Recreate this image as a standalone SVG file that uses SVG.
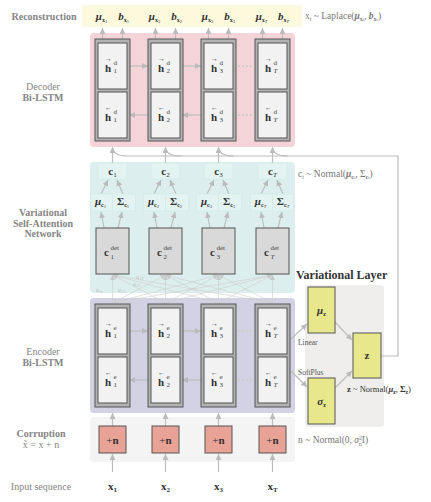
<svg xmlns="http://www.w3.org/2000/svg" width="431" height="502" viewBox="0 0 431 502">
<defs>
<style>
text{font-family:"Liberation Serif","DejaVu Serif",serif}
.lbl{fill:#858585;font-size:10px;text-anchor:middle}
.lb{font-weight:bold}
.m{fill:#333;font-size:11px}
.mb{font-weight:bold}
.s7{font-size:7px;fill:#444}
.ar{font-size:7px}
.note{fill:#777;font-size:9.5px}
.ln{stroke:#bdbdbd;stroke-width:1.2;fill:none}
.att{stroke:#cdcdcd;stroke-width:0.6;fill:none}
.outer{fill:#b3b3b3;stroke:#555;stroke-width:1}
.inner{fill:#f2f2f2;stroke:#555;stroke-width:1}
.dots{stroke:#cfcfcf;stroke-width:2;stroke-dasharray:2,2;fill:none}
.cell{fill:#e3f3f2;stroke:#d2ebe9;stroke-width:0.8}
.det{fill:#d9d9d9;stroke:#555;stroke-width:1}
.yel{fill:#e9e78b;stroke:#555;stroke-width:1}
.red{fill:#e9a296;stroke:#555;stroke-width:1}
</style>
<marker id="ah" markerUnits="userSpaceOnUse" markerWidth="6" markerHeight="6" refX="6" refY="3" orient="auto"><path d="M0,0 L6,3 L0,6 z" fill="#bbb"/></marker>
<marker id="as" markerUnits="userSpaceOnUse" markerWidth="5" markerHeight="5" refX="5" refY="2.5" orient="auto"><path d="M0,0 L5,2.5 L0,5 z" fill="#c8c8c8"/></marker>
</defs>
<rect width="431" height="502" fill="#fff"/>

<g id="bands">
<rect x="82" y="5" width="220" height="22" rx="3" fill="#fdf9dc"/>
<rect x="90" y="33" width="205" height="114" rx="4" fill="#f4d4d8"/>
<rect x="90" y="162" width="205" height="131" rx="4" fill="#dcefee"/>
<rect x="90" y="298" width="205" height="115" rx="4" fill="#d3d2e4"/>
<rect x="90" y="417" width="205" height="45" rx="3" fill="#f4f4f4"/>
<rect x="305" y="285" width="79" height="142" rx="3" fill="#efeeed"/>
</g>

<g id="left-labels">
<text class="lbl lb" x="44" y="20">Reconstruction</text>
<text class="lbl" x="43" y="90">Decoder</text>
<text class="lbl lb" x="43" y="100.5">Bi-LSTM</text>
<text class="lbl lb" x="43" y="216">Variational</text>
<text class="lbl lb" x="43" y="226.5">Self-Attention</text>
<text class="lbl lb" x="43" y="237">Network</text>
<text class="lbl" x="43" y="355">Encoder</text>
<text class="lbl lb" x="43" y="365.5">Bi-LSTM</text>
<text class="lbl lb" x="41" y="437">Corruption</text>
<text class="lbl" x="41" y="448">x̃ = x + n</text>
<text class="lbl" x="41" y="490">Input sequence</text>
</g>

<g id="connectors">
<line class="ln" x1="102.5" y1="39" x2="102.5" y2="28" marker-end="url(#ah)"/>
<line class="ln" x1="122.5" y1="39" x2="122.5" y2="28" marker-end="url(#ah)"/>
<line class="ln" x1="155.5" y1="39" x2="155.5" y2="28" marker-end="url(#ah)"/>
<line class="ln" x1="175.5" y1="39" x2="175.5" y2="28" marker-end="url(#ah)"/>
<line class="ln" x1="208.5" y1="39" x2="208.5" y2="28" marker-end="url(#ah)"/>
<line class="ln" x1="228.5" y1="39" x2="228.5" y2="28" marker-end="url(#ah)"/>
<line class="ln" x1="262.5" y1="39" x2="262.5" y2="28" marker-end="url(#ah)"/>
<line class="ln" x1="282.5" y1="39" x2="282.5" y2="28" marker-end="url(#ah)"/>
<line class="ln" x1="129" y1="66" x2="148" y2="66" marker-end="url(#ah)"/>
<line class="ln" x1="182" y1="66" x2="201" y2="66" marker-end="url(#ah)"/>
<line class="ln" x1="148" y1="115" x2="129" y2="115" marker-end="url(#ah)"/>
<line class="ln" x1="201" y1="115" x2="182" y2="115" marker-end="url(#ah)"/>
<line class="dots" x1="238" y1="66" x2="254" y2="66"/>
<line class="dots" x1="238" y1="115" x2="254" y2="115"/>
<line class="ln" x1="129" y1="331" x2="148" y2="331" marker-end="url(#ah)"/>
<line class="ln" x1="182" y1="331" x2="201" y2="331" marker-end="url(#ah)"/>
<line class="ln" x1="148" y1="380" x2="129" y2="380" marker-end="url(#ah)"/>
<line class="ln" x1="201" y1="380" x2="182" y2="380" marker-end="url(#ah)"/>
<line class="dots" x1="238" y1="331" x2="254" y2="331"/>
<line class="dots" x1="238" y1="380" x2="254" y2="380"/>
<line class="ln" x1="112.5" y1="163" x2="112.5" y2="147" marker-end="url(#ah)"/>
<line class="ln" x1="165.5" y1="163" x2="165.5" y2="147" marker-end="url(#ah)"/>
<line class="ln" x1="218.5" y1="163" x2="218.5" y2="147" marker-end="url(#ah)"/>
<line class="ln" x1="272.5" y1="163" x2="272.5" y2="147" marker-end="url(#ah)"/>
<path class="ln" d="M381,356H398V156H128Q113.5,156 112.5,148"/>
<path class="ln" d="M181,156Q166.5,156 165.5,148"/>
<path class="ln" d="M234,156Q219.5,156 218.5,148"/>
<path class="ln" d="M288,156Q273.5,156 272.5,148"/>
<line class="ln" x1="101" y1="194" x2="108" y2="180" marker-end="url(#ah)"/>
<line class="ln" x1="123" y1="194" x2="117" y2="180" marker-end="url(#ah)"/>
<line class="ln" x1="154" y1="194" x2="161" y2="180" marker-end="url(#ah)"/>
<line class="ln" x1="176" y1="194" x2="170" y2="180" marker-end="url(#ah)"/>
<line class="ln" x1="207" y1="194" x2="214" y2="180" marker-end="url(#ah)"/>
<line class="ln" x1="229" y1="194" x2="223" y2="180" marker-end="url(#ah)"/>
<line class="ln" x1="261" y1="194" x2="268" y2="180" marker-end="url(#ah)"/>
<line class="ln" x1="283" y1="194" x2="277" y2="180" marker-end="url(#ah)"/>
<line class="ln" x1="104" y1="228" x2="101" y2="212" marker-end="url(#ah)"/>
<line class="ln" x1="118" y1="228" x2="122" y2="212" marker-end="url(#ah)"/>
<line class="ln" x1="157" y1="228" x2="154" y2="212" marker-end="url(#ah)"/>
<line class="ln" x1="171" y1="228" x2="175" y2="212" marker-end="url(#ah)"/>
<line class="ln" x1="210" y1="228" x2="207" y2="212" marker-end="url(#ah)"/>
<line class="ln" x1="224" y1="228" x2="228" y2="212" marker-end="url(#ah)"/>
<line class="ln" x1="264" y1="228" x2="261" y2="212" marker-end="url(#ah)"/>
<line class="ln" x1="278" y1="228" x2="282" y2="212" marker-end="url(#ah)"/>
<g class="att" marker-end="url(#as)">
<line x1="112.5" y1="303" x2="112.5" y2="275"/><line x1="165.5" y1="303" x2="112.5" y2="275"/><line x1="218.5" y1="303" x2="112.5" y2="275"/><line x1="272.5" y1="303" x2="112.5" y2="275"/>
<line x1="112.5" y1="303" x2="165.5" y2="275"/><line x1="165.5" y1="303" x2="165.5" y2="275"/><line x1="218.5" y1="303" x2="165.5" y2="275"/><line x1="272.5" y1="303" x2="165.5" y2="275"/>
<line x1="112.5" y1="303" x2="218.5" y2="275"/><line x1="165.5" y1="303" x2="218.5" y2="275"/><line x1="218.5" y1="303" x2="218.5" y2="275"/><line x1="272.5" y1="303" x2="218.5" y2="275"/>
<line x1="112.5" y1="303" x2="272.5" y2="275"/><line x1="165.5" y1="303" x2="272.5" y2="275"/><line x1="218.5" y1="303" x2="272.5" y2="275"/><line x1="272.5" y1="303" x2="272.5" y2="275"/>
</g>
<line class="ln" x1="291" y1="339" x2="307" y2="324" marker-end="url(#ah)"/>
<line class="ln" x1="291" y1="371" x2="307" y2="387" marker-end="url(#ah)"/>
<line class="ln" x1="335" y1="322" x2="352" y2="340" marker-end="url(#ah)"/>
<line class="ln" x1="335" y1="388" x2="352" y2="371" marker-end="url(#ah)"/>
<line class="ln" x1="112.5" y1="472" x2="112.5" y2="454" marker-end="url(#ah)"/>
<line class="ln" x1="165.5" y1="472" x2="165.5" y2="454" marker-end="url(#ah)"/>
<line class="ln" x1="218.5" y1="472" x2="218.5" y2="454" marker-end="url(#ah)"/>
<line class="ln" x1="272.5" y1="472" x2="272.5" y2="454" marker-end="url(#ah)"/>
<line class="ln" x1="112.5" y1="426" x2="112.5" y2="413" marker-end="url(#ah)"/>
<line class="ln" x1="165.5" y1="426" x2="165.5" y2="413" marker-end="url(#ah)"/>
<line class="ln" x1="218.5" y1="426" x2="218.5" y2="413" marker-end="url(#ah)"/>
<line class="ln" x1="272.5" y1="426" x2="272.5" y2="413" marker-end="url(#ah)"/>
</g>

<g id="reconstruction">
<text class="m" text-anchor="middle" y="20"><tspan x="101.5" class="mb" font-style="italic">μ</tspan><tspan class="mb" font-size="6" dy="2">x</tspan><tspan font-size="4.5" dy="1">1</tspan></text>
<text class="m" text-anchor="middle" y="20"><tspan x="123.5" class="mb" font-style="italic">b</tspan><tspan class="mb" font-size="6" dy="2">x</tspan><tspan font-size="4.5" dy="1">1</tspan></text>
<text class="m" text-anchor="middle" y="20"><tspan x="154.5" class="mb" font-style="italic">μ</tspan><tspan class="mb" font-size="6" dy="2">x</tspan><tspan font-size="4.5" dy="1">2</tspan></text>
<text class="m" text-anchor="middle" y="20"><tspan x="176.5" class="mb" font-style="italic">b</tspan><tspan class="mb" font-size="6" dy="2">x</tspan><tspan font-size="4.5" dy="1">2</tspan></text>
<text class="m" text-anchor="middle" y="20"><tspan x="207.5" class="mb" font-style="italic">μ</tspan><tspan class="mb" font-size="6" dy="2">x</tspan><tspan font-size="4.5" dy="1">3</tspan></text>
<text class="m" text-anchor="middle" y="20"><tspan x="229.5" class="mb" font-style="italic">b</tspan><tspan class="mb" font-size="6" dy="2">x</tspan><tspan font-size="4.5" dy="1">3</tspan></text>
<text class="m" text-anchor="middle" y="20"><tspan x="261.5" class="mb" font-style="italic">μ</tspan><tspan class="mb" font-size="6" dy="2">x</tspan><tspan font-size="4.5" dy="1" font-style="italic">T</tspan></text>
<text class="m" text-anchor="middle" y="20"><tspan x="283.5" class="mb" font-style="italic">b</tspan><tspan class="mb" font-size="6" dy="2">x</tspan><tspan font-size="4.5" dy="1" font-style="italic">T</tspan></text>
<text class="note" x="305" y="19">x<tspan font-size="6" dy="1.5" font-style="italic">t</tspan><tspan dy="-1.5"> ~ Laplace(</tspan><tspan font-weight="bold" font-style="italic">μ</tspan><tspan font-size="6" dy="1.5" font-weight="bold">x</tspan><tspan font-size="4.5" font-style="italic">t</tspan><tspan dy="-1.5">, </tspan><tspan font-weight="bold" font-style="italic">b</tspan><tspan font-size="6" dy="1.5" font-weight="bold">x</tspan><tspan font-size="4.5" font-style="italic">t</tspan><tspan dy="-1.5">)</tspan></text>
</g>

<g id="dec-1">
<rect class="outer" x="95" y="39" width="35" height="102"/>
<rect class="inner" x="98" y="43" width="29" height="46"/>
<rect class="inner" x="98" y="92" width="29" height="46"/>
<text class="m" y="72"><tspan x="105" class="mb">h</tspan><tspan x="105" dy="-11.3" class="ar">→</tspan><tspan x="113.5" dy="3.8" class="s7">d</tspan><tspan x="113.5" dy="8" class="s7">1</tspan></text>
<text class="m" y="121"><tspan x="105" class="mb">h</tspan><tspan x="105" dy="-11.3" class="ar">←</tspan><tspan x="113.5" dy="3.8" class="s7">d</tspan><tspan x="113.5" dy="8" class="s7">1</tspan></text>
</g>
<g id="dec-2">
<rect class="outer" x="148" y="39" width="35" height="102"/>
<rect class="inner" x="151" y="43" width="29" height="46"/>
<rect class="inner" x="151" y="92" width="29" height="46"/>
<text class="m" y="72"><tspan x="158" class="mb">h</tspan><tspan x="158" dy="-11.3" class="ar">→</tspan><tspan x="166.5" dy="3.8" class="s7">d</tspan><tspan x="166.5" dy="8" class="s7">2</tspan></text>
<text class="m" y="121"><tspan x="158" class="mb">h</tspan><tspan x="158" dy="-11.3" class="ar">←</tspan><tspan x="166.5" dy="3.8" class="s7">d</tspan><tspan x="166.5" dy="8" class="s7">2</tspan></text>
</g>
<g id="dec-3">
<rect class="outer" x="201" y="39" width="35" height="102"/>
<rect class="inner" x="204" y="43" width="29" height="46"/>
<rect class="inner" x="204" y="92" width="29" height="46"/>
<text class="m" y="72"><tspan x="211" class="mb">h</tspan><tspan x="211" dy="-11.3" class="ar">→</tspan><tspan x="219.5" dy="3.8" class="s7">d</tspan><tspan x="219.5" dy="8" class="s7">3</tspan></text>
<text class="m" y="121"><tspan x="211" class="mb">h</tspan><tspan x="211" dy="-11.3" class="ar">←</tspan><tspan x="219.5" dy="3.8" class="s7">d</tspan><tspan x="219.5" dy="8" class="s7">3</tspan></text>
</g>
<g id="dec-T">
<rect class="outer" x="255" y="39" width="35" height="102"/>
<rect class="inner" x="258" y="43" width="29" height="46"/>
<rect class="inner" x="258" y="92" width="29" height="46"/>
<text class="m" y="72"><tspan x="265" class="mb">h</tspan><tspan x="265" dy="-11.3" class="ar">→</tspan><tspan x="273.5" dy="3.8" class="s7">d</tspan><tspan x="273.5" dy="8" class="s7" font-style="italic">T</tspan></text>
<text class="m" y="121"><tspan x="265" class="mb">h</tspan><tspan x="265" dy="-11.3" class="ar">←</tspan><tspan x="273.5" dy="3.8" class="s7">d</tspan><tspan x="273.5" dy="8" class="s7" font-style="italic">T</tspan></text>
</g>

<g id="c-cells">
<rect class="cell" x="98" y="163" width="29" height="16"/>
<rect class="cell" x="151" y="163" width="29" height="16"/>
<rect class="cell" x="204" y="163" width="29" height="16"/>
<rect class="cell" x="258" y="163" width="29" height="16"/>
<text class="m" x="112.5" y="175" text-anchor="middle"><tspan class="mb">c</tspan><tspan font-size="7" dy="2">1</tspan></text>
<text class="m" x="165.5" y="175" text-anchor="middle"><tspan class="mb">c</tspan><tspan font-size="7" dy="2">2</tspan></text>
<text class="m" x="218.5" y="175" text-anchor="middle"><tspan class="mb">c</tspan><tspan font-size="7" dy="2">3</tspan></text>
<text class="m" x="272.5" y="175" text-anchor="middle"><tspan class="mb">c</tspan><tspan font-size="7" dy="2" font-style="italic">T</tspan></text>
<text class="note" x="298" y="177">c<tspan font-size="6" dy="1.5" font-style="italic">t</tspan><tspan dy="-1.5"> ~ Normal(</tspan><tspan font-weight="bold" font-style="italic">μ</tspan><tspan font-size="6" dy="1.5" font-weight="bold">c</tspan><tspan font-size="4.5" font-style="italic">t</tspan><tspan dy="-1.5">, Σ</tspan><tspan font-size="6" dy="1.5" font-weight="bold">c</tspan><tspan font-size="4.5" font-style="italic">t</tspan><tspan dy="-1.5">)</tspan></text>
</g>

<g id="mu-sigma">
<rect class="cell" x="90.5" y="194" width="22" height="17"/><rect class="cell" x="112.5" y="194" width="23" height="17"/>
<rect class="cell" x="143.5" y="194" width="22" height="17"/><rect class="cell" x="165.5" y="194" width="23" height="17"/>
<rect class="cell" x="196.5" y="194" width="22" height="17"/><rect class="cell" x="218.5" y="194" width="23" height="17"/>
<rect class="cell" x="250.5" y="194" width="22" height="17"/><rect class="cell" x="272.5" y="194" width="21" height="17"/>
<text class="m" x="100.5" y="205" text-anchor="middle"><tspan class="mb" font-style="italic">μ</tspan><tspan class="mb" font-size="6" dy="2">c</tspan><tspan font-size="4.5" dy="1">1</tspan></text>
<text class="m" x="123" y="205" text-anchor="middle"><tspan class="mb">Σ</tspan><tspan class="mb" font-size="6" dy="2">c</tspan><tspan font-size="4.5" dy="1">1</tspan></text>
<text class="m" x="153.5" y="205" text-anchor="middle"><tspan class="mb" font-style="italic">μ</tspan><tspan class="mb" font-size="6" dy="2">c</tspan><tspan font-size="4.5" dy="1">2</tspan></text>
<text class="m" x="176" y="205" text-anchor="middle"><tspan class="mb">Σ</tspan><tspan class="mb" font-size="6" dy="2">c</tspan><tspan font-size="4.5" dy="1">2</tspan></text>
<text class="m" x="206.5" y="205" text-anchor="middle"><tspan class="mb" font-style="italic">μ</tspan><tspan class="mb" font-size="6" dy="2">c</tspan><tspan font-size="4.5" dy="1">3</tspan></text>
<text class="m" x="229" y="205" text-anchor="middle"><tspan class="mb">Σ</tspan><tspan class="mb" font-size="6" dy="2">c</tspan><tspan font-size="4.5" dy="1">3</tspan></text>
<text class="m" x="260.5" y="205" text-anchor="middle"><tspan class="mb" font-style="italic">μ</tspan><tspan class="mb" font-size="6" dy="2">c</tspan><tspan font-size="4.5" dy="1" font-style="italic">T</tspan></text>
<text class="m" x="283" y="205" text-anchor="middle"><tspan class="mb">Σ</tspan><tspan class="mb" font-size="6" dy="2">c</tspan><tspan font-size="4.5" dy="1" font-style="italic">T</tspan></text>
</g>

<g id="cdet-1"><rect class="det" x="96" y="228" width="33" height="46"/><text class="m" y="256"><tspan x="104" class="mb">c</tspan><tspan x="110.5" dy="-6" class="s7">det</tspan><tspan x="110.5" dy="9" class="s7">1</tspan></text></g>
<g id="cdet-2"><rect class="det" x="149" y="228" width="33" height="46"/><text class="m" y="256"><tspan x="157" class="mb">c</tspan><tspan x="163.5" dy="-6" class="s7">det</tspan><tspan x="163.5" dy="9" class="s7">2</tspan></text></g>
<g id="cdet-3"><rect class="det" x="202" y="228" width="33" height="46"/><text class="m" y="256"><tspan x="210" class="mb">c</tspan><tspan x="216.5" dy="-6" class="s7">det</tspan><tspan x="216.5" dy="9" class="s7">3</tspan></text></g>
<g id="cdet-T"><rect class="det" x="256" y="228" width="33" height="46"/><text class="m" y="256"><tspan x="264" class="mb">c</tspan><tspan x="270.5" dy="-6" class="s7">det</tspan><tspan x="270.5" dy="9" class="s7" font-style="italic">T</tspan></text></g>

<g id="attn-labels" fill="#bdbdbd" font-size="6">
<text x="96" y="292" font-style="italic">a<tspan font-size="4.5" dy="1">11</tspan></text>
<text x="118" y="292" font-style="italic">a<tspan font-size="4.5" dy="1">12</tspan></text>
<text x="133" y="286" font-style="italic">a<tspan font-size="4.5" dy="1">13</tspan></text>
<text x="136" y="279" font-style="italic">a<tspan font-size="4.5" dy="1">1T</tspan></text>
</g>

<g id="enc-1">
<rect class="outer" x="95" y="304" width="35" height="103"/>
<rect class="inner" x="98" y="308" width="29" height="46"/>
<rect class="inner" x="98" y="357" width="29" height="46"/>
<text class="m" y="337"><tspan x="105" class="mb">h</tspan><tspan x="105" dy="-11.3" class="ar">→</tspan><tspan x="113.5" dy="3.8" class="s7">e</tspan><tspan x="113.5" dy="8" class="s7">1</tspan></text>
<text class="m" y="386"><tspan x="105" class="mb">h</tspan><tspan x="105" dy="-11.3" class="ar">←</tspan><tspan x="113.5" dy="3.8" class="s7">e</tspan><tspan x="113.5" dy="8" class="s7">1</tspan></text>
</g>
<g id="enc-2">
<rect class="outer" x="148" y="304" width="35" height="103"/>
<rect class="inner" x="151" y="308" width="29" height="46"/>
<rect class="inner" x="151" y="357" width="29" height="46"/>
<text class="m" y="337"><tspan x="158" class="mb">h</tspan><tspan x="158" dy="-11.3" class="ar">→</tspan><tspan x="166.5" dy="3.8" class="s7">e</tspan><tspan x="166.5" dy="8" class="s7">2</tspan></text>
<text class="m" y="386"><tspan x="158" class="mb">h</tspan><tspan x="158" dy="-11.3" class="ar">←</tspan><tspan x="166.5" dy="3.8" class="s7">e</tspan><tspan x="166.5" dy="8" class="s7">2</tspan></text>
</g>
<g id="enc-3">
<rect class="outer" x="201" y="304" width="35" height="103"/>
<rect class="inner" x="204" y="308" width="29" height="46"/>
<rect class="inner" x="204" y="357" width="29" height="46"/>
<text class="m" y="337"><tspan x="211" class="mb">h</tspan><tspan x="211" dy="-11.3" class="ar">→</tspan><tspan x="219.5" dy="3.8" class="s7">e</tspan><tspan x="219.5" dy="8" class="s7">3</tspan></text>
<text class="m" y="386"><tspan x="211" class="mb">h</tspan><tspan x="211" dy="-11.3" class="ar">←</tspan><tspan x="219.5" dy="3.8" class="s7">e</tspan><tspan x="219.5" dy="8" class="s7">3</tspan></text>
</g>
<g id="enc-T">
<rect class="outer" x="255" y="304" width="35" height="103"/>
<rect class="inner" x="258" y="308" width="29" height="46"/>
<rect class="inner" x="258" y="357" width="29" height="46"/>
<text class="m" y="337"><tspan x="265" class="mb">h</tspan><tspan x="265" dy="-11.3" class="ar">→</tspan><tspan x="273.5" dy="3.8" class="s7">e</tspan><tspan x="273.5" dy="8" class="s7" font-style="italic">T</tspan></text>
<text class="m" y="386"><tspan x="265" class="mb">h</tspan><tspan x="265" dy="-11.3" class="ar">←</tspan><tspan x="273.5" dy="3.8" class="s7">e</tspan><tspan x="273.5" dy="8" class="s7" font-style="italic">T</tspan></text>
</g>

<text x="296" y="279" font-size="12" font-weight="bold" fill="#333">Variational Layer</text>
<g id="mu-z"><rect class="yel" x="308" y="287" width="27" height="46"/><text class="m" x="321.5" y="314" text-anchor="middle"><tspan class="mb" font-style="italic">μ</tspan><tspan class="mb" font-size="6" dy="2">z</tspan></text></g>
<g id="sigma-z"><rect class="yel" x="308" y="378" width="27" height="46"/><text class="m" x="321.5" y="405" text-anchor="middle"><tspan class="mb" font-style="italic">σ</tspan><tspan class="mb" font-size="6" dy="2">z</tspan></text></g>
<g id="z"><rect class="yel" x="353" y="333" width="28" height="45"/><text class="m mb" x="367" y="359" text-anchor="middle">z</text></g>
<text x="298" y="345" font-size="7.5" fill="#555">Linear</text>
<text x="298" y="375" font-size="7.5" fill="#555">SoftPlus</text>
<text x="347" y="392" font-size="8.5" fill="#333"><tspan font-weight="bold">z</tspan> ~ Normal(<tspan font-weight="bold" font-style="italic">μ</tspan><tspan font-size="5.5" dy="1.5" font-weight="bold">z</tspan><tspan dy="-1.5">, </tspan><tspan font-weight="bold">Σ</tspan><tspan font-size="5.5" dy="1.5" font-weight="bold">z</tspan><tspan dy="-1.5">)</tspan></text>

<g id="noise-1"><rect class="red" x="99" y="426" width="27" height="27"/><text class="m" x="112.5" y="443.5" text-anchor="middle">+<tspan font-weight="bold">n</tspan></text></g>
<g id="noise-2"><rect class="red" x="152" y="426" width="27" height="27"/><text class="m" x="165.5" y="443.5" text-anchor="middle">+<tspan font-weight="bold">n</tspan></text></g>
<g id="noise-3"><rect class="red" x="205" y="426" width="27" height="27"/><text class="m" x="218.5" y="443.5" text-anchor="middle">+<tspan font-weight="bold">n</tspan></text></g>
<g id="noise-T"><rect class="red" x="259" y="426" width="27" height="27"/><text class="m" x="272.5" y="443.5" text-anchor="middle">+<tspan font-weight="bold">n</tspan></text></g>
<text class="note" x="298" y="443">n ~ Normal(0, <tspan font-style="italic">σ</tspan><tspan font-size="6" dy="-3.5">2</tspan><tspan font-size="6" dx="-3.2" dy="6">n</tspan><tspan dy="-2.5">I)</tspan></text>

<g id="inputs">
<text class="m" x="112.5" y="490" text-anchor="middle"><tspan class="mb">x</tspan><tspan font-size="7" dy="2" class="mb">1</tspan></text>
<text class="m" x="165.5" y="490" text-anchor="middle"><tspan class="mb">x</tspan><tspan font-size="7" dy="2" class="mb">2</tspan></text>
<text class="m" x="218.5" y="490" text-anchor="middle"><tspan class="mb">x</tspan><tspan font-size="7" dy="2" class="mb">3</tspan></text>
<text class="m" x="272.5" y="490" text-anchor="middle"><tspan class="mb">x</tspan><tspan font-size="7" dy="2" class="mb">T</tspan></text>
</g>
</svg>
